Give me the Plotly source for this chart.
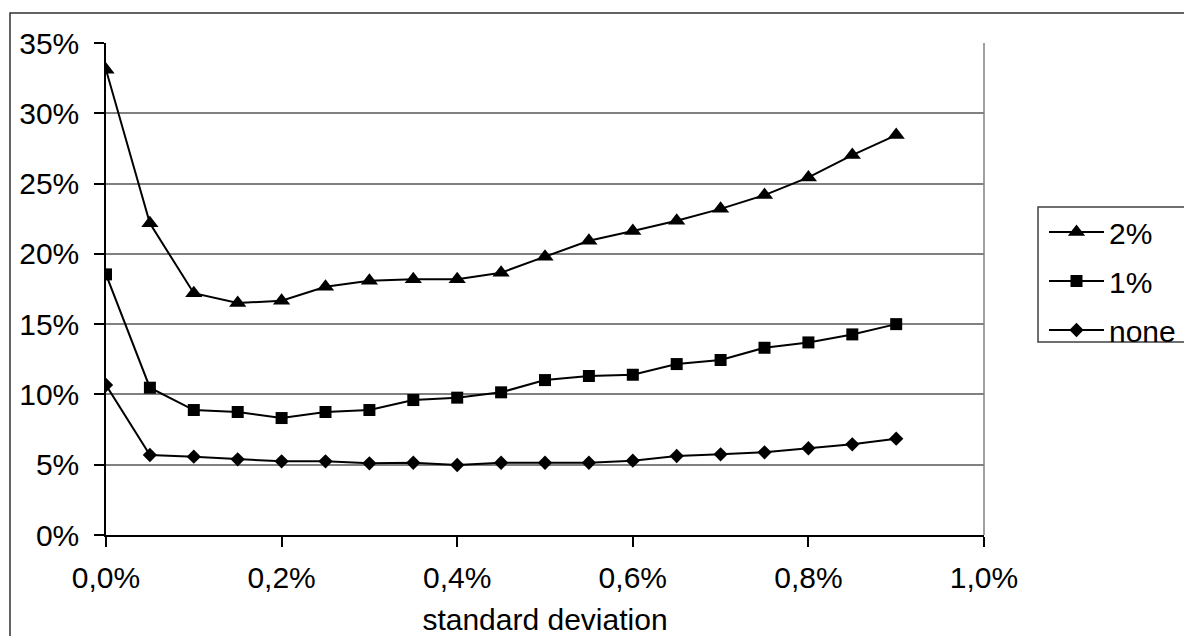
import plotly.graph_objects as go

std_dev = [0.0, 0.0005, 0.001, 0.0015, 0.002, 0.0025, 0.003, 0.0035, 0.004, 0.0045,
           0.005, 0.0055, 0.006, 0.0065, 0.007, 0.0075, 0.008, 0.0085, 0.009]

series_2pct = [0.331, 0.2217, 0.172, 0.165, 0.1667, 0.1766, 0.1809, 0.182, 0.182, 0.1866,
               0.198, 0.2093, 0.2162, 0.2236, 0.232, 0.2418, 0.2544, 0.2703, 0.2845]
series_1pct = [0.1854, 0.1048, 0.0889, 0.0875, 0.0832, 0.0875, 0.0889, 0.096, 0.0977, 0.1015,
               0.1102, 0.1131, 0.114, 0.1216, 0.1245, 0.1332, 0.137, 0.1427, 0.150]
series_none = [0.1067, 0.0569, 0.0557, 0.0538, 0.0524, 0.0524, 0.051, 0.0514, 0.0498, 0.0514,
               0.0514, 0.0514, 0.0529, 0.0562, 0.0574, 0.0588, 0.0617, 0.0645, 0.0685]

names = ["2%", "1%", "none"]
symbols = ["triangle-up", "square", "diamond"]
sizes = [15, 12, 11]
all_series = [series_2pct, series_1pct, series_none]

FONT = "Arial, Liberation Sans, sans-serif"
FS = 30

fig = go.Figure()
for i, (nm, sym, sz, ys) in enumerate(zip(names, symbols, sizes, all_series)):
    fig.add_trace(go.Scatter(
        x=std_dev, y=ys, name=nm, mode="lines+markers",
        line=dict(color="black", width=2),
        marker=dict(symbol=sym, size=sz, color="black"),
        legendgroup=nm,
    ))

W, H = 1184, 636
L, R, T, B = 106, 984, 43, 535
pw, ph = R - L, B - T

def px(xp):
    return (xp - L) / pw

def py(yp):
    return (B - yp) / ph

fig.update_layout(
    width=W, height=H,
    margin=dict(l=L, r=W - R, t=T, b=H - B, pad=0, autoexpand=False),
    paper_bgcolor="white", plot_bgcolor="white",
    separators=", ",
    font=dict(family=FONT, size=FS, color="black"),
    showlegend=True,
    legend=dict(
        x=px(1044), y=py(206), xanchor="left", yanchor="top",
        bgcolor="rgba(0,0,0,0)", borderwidth=0,
        font=dict(family=FONT, size=FS, color="black"),
        itemwidth=55, tracegroupgap=7, traceorder="grouped",
    ),
    xaxis=dict(
        range=[0, 0.01], dtick=0.002, tick0=0, tickformat=".1%",
        showgrid=False, zeroline=False, automargin=False,
        showline=True, linecolor="black", linewidth=1.5,
        ticks="outside", ticklen=10, tickwidth=1.5, tickcolor="black",
        ticklabelstandoff=5,
        title=dict(text="standard deviation", standoff=36,
                   font=dict(family=FONT, size=FS, color="black")),
    ),
    yaxis=dict(
        range=[0, 0.35], dtick=0.05, tick0=0, tickformat=".0%",
        showgrid=True, gridcolor="#808080", gridwidth=1.5,
        zeroline=False, automargin=False,
        showline=True, linecolor="black", linewidth=1.5,
        ticks="outside", ticklen=10, tickwidth=1.5, tickcolor="black",
        ticklabelstandoff=9,
    ),
    shapes=[
        dict(type="line", xref="paper", yref="paper", x0=1, x1=1, y0=0, y1=1,
             line=dict(color="#808080", width=1.5)),
        dict(type="rect", xref="paper", yref="paper",
             x0=px(10), x1=px(1200), y0=py(660), y1=py(13),
             line=dict(color="#303030", width=1.5), layer="below"),
        dict(type="rect", xref="paper", yref="paper",
             x0=px(1038), x1=px(1200), y0=py(342), y1=py(207),
             line=dict(color="#404040", width=1.5), layer="below"),
    ],
)

fig.write_html("out.html", config={"displayModeBar": False},
               post_script="document.body.style.margin='0';")
